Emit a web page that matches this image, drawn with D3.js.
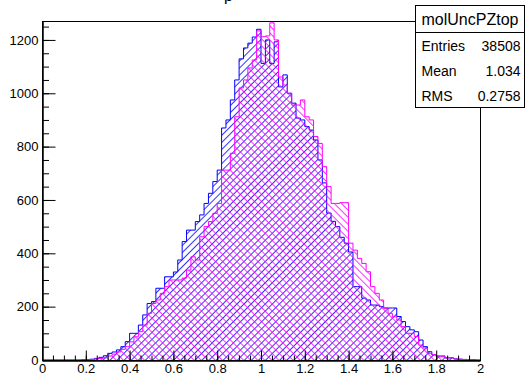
<!DOCTYPE html>
<html>
<head>
<meta charset="utf-8">
<script src="https://cdn.jsdelivr.net/npm/d3@7"></script>
<style>
  body { margin: 0; background: #fff; }
  svg { display: block; font-family: "Liberation Sans", Arial, sans-serif; }
</style>
</head>
<body>
<svg id="chart" width="525" height="375"></svg>
<script>
// histogram range / binning
const xRange = [0, 2];
const binWidth = 0.02;
const yMax = 1271;

// bin contents (100 bins, 0..2), first histogram (blue)
const blueCounts = [
  0, 0, 0, 0, 0, 0, 0, 0, 0, 1,
  2, 3, 6, 10, 16, 25, 30, 38, 50, 69,
  100, 100, 131, 169, 212, 219, 269, 269, 312, 312,
  330, 375, 444, 487, 487, 519, 544, 587, 625, 669,
  712, 870, 900, 975, 1050, 1129, 1170, 1188, 1211, 1240,
  1112, 1200, 1112, 1193, 1024, 1069, 1000, 963, 907, 900,
  875, 862, 825, 750, 664, 551, 520, 500, 460, 438,
  405, 275, 275, 232, 225, 206, 206, 200, 195, 195,
  195, 163, 144, 125, 113, 106, 75, 50, 31, 19,
  15, 15, 8, 8, 4, 3, 2, 1, 1, 0
];

// second histogram (magenta)
const magentaCounts = [
  0, 0, 0, 0, 0, 0, 0, 0, 0, 0,
  1, 2, 4, 6, 10, 15, 22, 30, 40, 50,
  68, 87, 106, 131, 175, 212, 225, 250, 275, 300,
  300, 300, 307, 337, 387, 375, 462, 500, 519, 550,
  587, 712, 712, 775, 912, 1020, 1050, 1095, 1125, 1234,
  1212, 1215, 1264, 1200, 1061, 1031, 1000, 956, 956, 975,
  912, 900, 838, 812, 725, 650, 587, 587, 590, 590,
  438, 412, 381, 362, 331, 275, 250, 225, 194, 175,
  162, 150, 125, 100, 100, 88, 56, 45, 25, 20,
  12, 12, 8, 8, 4, 3, 2, 1, 0, 0
];

const xTicks = [0, 0.2, 0.4, 0.6, 0.8, 1, 1.2, 1.4, 1.6, 1.8, 2];
const yTicks = [0, 200, 400, 600, 800, 1000, 1200];

const statsTitle = "molUncPZtop";
const statsLabels = ["Entries", "Mean", "RMS"];
const statsValues = ["38508", "1.034", "0.2758"];

const svg = d3.select("#chart");

const x = d3.scaleLinear().domain(xRange).range([42, 480]);
const y = d3.scaleLinear().domain([0, yMax]).range([360, 21]);

// title (mostly off the top of the canvas, like the reference)
svg.append("text")
  .attr("x", 224)
  .attr("y", 0.5)
  .attr("font-size", "16px")
  .attr("fill", "#000")
  .text("p");

// hatch patterns
const defs = svg.append("defs");
function hatch(id, color, angle) {
  const p = defs.append("pattern")
    .attr("id", id)
    .attr("patternUnits", "userSpaceOnUse")
    .attr("width", 5)
    .attr("height", 5)
    .attr("patternTransform", `rotate(${angle})`);
  p.append("line")
    .attr("x1", 2.5).attr("y1", 0)
    .attr("x2", 2.5).attr("y2", 5)
    .attr("stroke", color)
    .attr("stroke-width", 0.8);
}
hatch("hatchBlue", "#0000ff", 45);
hatch("hatchMagenta", "#ff00ff", -45);

// step outline of a histogram
function histPath(counts) {
  const p = d3.path();
  p.moveTo(x(xRange[0]), y(0));
  counts.forEach((c, i) => {
    const lo = xRange[0] + i * binWidth;
    p.lineTo(x(lo), y(c));
    p.lineTo(x(lo + binWidth), y(c));
  });
  p.lineTo(x(xRange[1]), y(0));
  return p.toString();
}

const plot = svg.append("g").attr("class", "hists");

plot.append("path")
  .attr("d", histPath(blueCounts) + "Z")
  .attr("fill", "url(#hatchBlue)")
  .attr("stroke", "none");
plot.append("path")
  .attr("d", histPath(blueCounts))
  .attr("fill", "none")
  .attr("stroke", "#0000ff")
  .attr("stroke-width", 1);

plot.append("path")
  .attr("d", histPath(magentaCounts) + "Z")
  .attr("fill", "url(#hatchMagenta)")
  .attr("stroke", "none");
plot.append("path")
  .attr("d", histPath(magentaCounts))
  .attr("fill", "none")
  .attr("stroke", "#ff00ff")
  .attr("stroke-width", 1);

// frame
svg.append("rect")
  .attr("x", 42.5).attr("y", 21.5)
  .attr("width", 438).attr("height", 339)
  .attr("fill", "none")
  .attr("stroke", "#000")
  .attr("stroke-width", 1);

// axes (ROOT style: ticks pointing into the frame)
const yMinor = d3.range(0, yMax, 50);
const xMinor = d3.range(0, 41).map(d => d * 0.05);

const yAxis = svg.append("g").attr("transform", "translate(42.5,0)");
yAxis.call(d3.axisLeft(y).tickValues(yMinor).tickFormat("").tickSizeInner(-6.5).tickSizeOuter(0));
yAxis.append("g").call(d3.axisLeft(y).tickValues(yTicks).tickFormat(d3.format("d"))
  .tickSizeInner(-13).tickSizeOuter(0).tickPadding(4));

const xAxis = svg.append("g").attr("transform", "translate(0,360.5)");
xAxis.call(d3.axisBottom(x).tickValues(xMinor).tickFormat("").tickSizeInner(-5).tickSizeOuter(0));
xAxis.append("g").call(d3.axisBottom(x).tickValues(xTicks).tickFormat(d3.format("~g"))
  .tickSizeInner(-10).tickSizeOuter(0).tickPadding(3));

svg.selectAll(".tick line").attr("stroke", "#000");
svg.selectAll(".domain").attr("stroke", "#000");
svg.selectAll(".tick text")
  .attr("font-size", "13px")
  .attr("font-family", "Liberation Sans, Arial, sans-serif")
  .attr("fill", "#000");

// stats box
const stats = svg.append("g").attr("transform", "translate(415.5,5.5)");
stats.append("rect")
  .attr("width", 109).attr("height", 102)
  .attr("fill", "#fff").attr("stroke", "#000");
stats.append("line")
  .attr("x1", 0).attr("x2", 109)
  .attr("y1", 27).attr("y2", 27)
  .attr("stroke", "#000");
stats.append("text")
  .attr("x", 54.5).attr("y", 13.5)
  .attr("text-anchor", "middle")
  .attr("dominant-baseline", "central")
  .attr("font-size", "16px")
  .text(statsTitle);

const rowY = [40, 65, 90];
stats.selectAll("text.lab")
  .data(statsLabels)
  .join("text")
  .attr("class", "lab")
  .attr("x", 6)
  .attr("y", (d, i) => rowY[i])
  .attr("dominant-baseline", "central")
  .attr("font-size", "14px")
  .text(d => d);
stats.selectAll("text.val")
  .data(statsValues)
  .join("text")
  .attr("class", "val")
  .attr("x", 105)
  .attr("y", (d, i) => rowY[i])
  .attr("text-anchor", "end")
  .attr("dominant-baseline", "central")
  .attr("font-size", "14px")
  .text(d => d);
</script>
</body>
</html>
